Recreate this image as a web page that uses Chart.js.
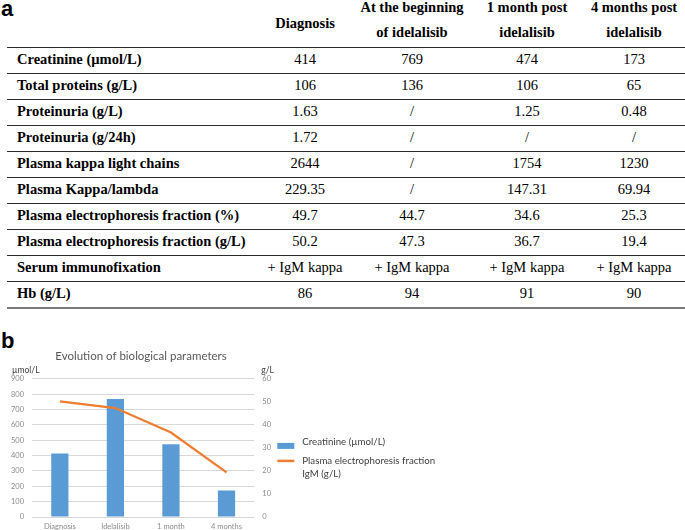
<!DOCTYPE html>
<html>
<head>
<meta charset="utf-8">
<script src="https://cdn.jsdelivr.net/npm/chart.js@4/dist/chart.umd.min.js"></script>
<style>
  html, body { margin: 0; padding: 0; background: #fff; }
  body { width: 685px; height: 530px; position: relative; overflow: hidden; color: #000; }
  .panel { position: absolute; font-family: "Liberation Sans", Arial, sans-serif; font-weight: bold; font-size: 22px; line-height: 22px; left: 1px; }
  .hdr, .cell { font-family: "Liberation Serif", "Times New Roman", serif; }
  .hdr { position: absolute; font-weight: bold; font-size: 14.5px; line-height: 25px; text-align: center; white-space: nowrap; }
  .cell { position: absolute; font-size: 14.5px; line-height: 26px; height: 26px; white-space: nowrap; }
  .lbl { font-weight: bold; text-align: left; }
  .val { text-align: center; }
  .rule { position: absolute; left: 7px; width: 678px; height: 1.3px; background: #2a2a2a; }
  .rule.last { height: 2px; background: #7a7a7a; }
  #chartWrap { position: absolute; left: 0; top: 330px; width: 685px; height: 206px; }
</style>
</head>
<body>
<div class="panel" style="top:-2px;">a</div>
<div class="panel" style="top:330px;">b</div>
<div id="table"></div>
<div id="chartWrap"><canvas id="c" width="685" height="206"></canvas></div>
<script>
// ---------- Table data ----------
const tableHeaders = [
  ["Diagnosis"],
  ["At the beginning", "of idelalisib"],
  ["1 month post", "idelalisib"],
  ["4 months post", "idelalisib"]
];
const tableRowLabels = [
  "Creatinine (µmol/L)",
  "Total proteins (g/L)",
  "Proteinuria (g/L)",
  "Proteinuria (g/24h)",
  "Plasma kappa light chains",
  "Plasma Kappa/lambda",
  "Plasma electrophoresis fraction (%)",
  "Plasma electrophoresis fraction (g/L)",
  "Serum immunofixation",
  "Hb (g/L)"
];
const colDiagnosis = ["414", "106", "1.63", "1.72", "2644", "229.35", "49.7", "50.2", "+ IgM kappa", "86"];
const colBeginning = ["769", "136", "/", "/", "/", "/", "44.7", "47.3", "+ IgM kappa", "94"];
const colOneMonth  = ["474", "106", "1.25", "/", "1754", "147.31", "34.6", "36.7", "+ IgM kappa", "91"];
const colFourMonth = ["173", "65", "0.48", "/", "1230", "69.94", "25.3", "19.4", "+ IgM kappa", "90"];

// ---------- Chart data ----------
const categories = ["Diagnosis", "Idelalisib", "1 month", "4 months"];
const creatinine = [414, 769, 474, 173];
const electrophoresisIgM = [50.2, 47.3, 36.7, 19.4];
const leftAxisRange = [0, 900, 100];
const rightAxisRange = [0, 60, 10];
const chartTitle = "Evolution of biological parameters";
const leftUnit = "µmol/L";
const rightUnit = "g/L";
const seriesNames = ["Creatinine (µmol/L)", "Plasma electrophoresis fraction IgM (g/L)"];
const legendLines = [["Creatinine (µmol/L)"], ["Plasma electrophoresis fraction", "IgM (g/L)"]];

// ---------- Build table ----------
(function buildTable() {
  const t = document.getElementById('table');
  const colCenters = [305, 412, 527, 634];
  const colWidth = 140;
  const rowTop0 = 47, rowH = 26;
  tableHeaders.forEach((lines, i) => {
    const d = document.createElement('div');
    d.className = 'hdr';
    d.style.left = (colCenters[i] - colWidth / 2) + 'px';
    d.style.width = colWidth + 'px';
    d.style.top = (lines.length === 1 ? 10.5 : -5.5) + 'px';
    d.innerHTML = lines.join('<br>');
    t.appendChild(d);
  });
  const cols = [colDiagnosis, colBeginning, colOneMonth, colFourMonth];
  for (let r = 0; r <= tableRowLabels.length; r++) {
    const line = document.createElement('div');
    line.className = 'rule' + (r === tableRowLabels.length ? ' last' : '');
    line.style.top = (rowTop0 + r * rowH - 0.5) + 'px';
    t.appendChild(line);
  }
  tableRowLabels.forEach((lab, r) => {
    const top = rowTop0 + r * rowH - 1.5;
    const l = document.createElement('div');
    l.className = 'cell lbl';
    l.style.left = '17px';
    l.style.top = top + 'px';
    l.textContent = lab;
    t.appendChild(l);
    cols.forEach((col, ci) => {
      const v = document.createElement('div');
      v.className = 'cell val';
      v.style.left = (colCenters[ci] - colWidth / 2) + 'px';
      v.style.width = colWidth + 'px';
      v.style.top = top + 'px';
      v.textContent = col[r];
      t.appendChild(v);
    });
  });
})();

// ---------- Chart ----------
const BLUE = '#5b9bd5';
const ORANGE = '#ed7d31';
const FONT = 'Lato, "Open Sans", sans-serif';

const extrasPlugin = {
  id: 'extras',
  afterDraw(chart) {
    const ctx = chart.ctx;
    const ca = chart.chartArea;
    const yR = chart.scales.y1;
    ctx.save();
    ctx.fillStyle = '#404040';
    ctx.font = '8.5px ' + FONT;
    ctx.textBaseline = 'middle';
    ctx.textAlign = 'left';
    ctx.fillText(leftUnit, 12, ca.top - 9);
    ctx.fillText(rightUnit, yR.left + 7, ca.top - 9);
    const lx = ca.right + 23;
    const cy = (ca.top + ca.bottom) / 2;
    ctx.font = '9.7px ' + FONT;
    const dsBar = chart.data.datasets[1];
    ctx.fillStyle = dsBar.backgroundColor;
    ctx.fillRect(lx, cy - 5, 17, 6);
    ctx.fillStyle = '#404040';
    legendLines[0].forEach((s, i) => ctx.fillText(s, lx + 25, cy - 6 + i * 13));
    const dsLine = chart.data.datasets[0];
    ctx.strokeStyle = dsLine.borderColor;
    ctx.lineWidth = 2.5;
    ctx.beginPath();
    ctx.moveTo(lx, cy + 13);
    ctx.lineTo(lx + 17, cy + 13);
    ctx.stroke();
    legendLines[1].forEach((s, i) => ctx.fillText(s, lx + 25, cy + 13 + i * 13));
    ctx.restore();
  }
};

new Chart(document.getElementById('c'), {
  data: {
    labels: categories,
    datasets: [
      {
        type: 'line',
        label: seriesNames[1],
        data: electrophoresisIgM,
        yAxisID: 'y1',
        borderColor: ORANGE,
        backgroundColor: ORANGE,
        borderWidth: 2.25,
        pointRadius: 0,
        tension: 0,
        order: 0
      },
      {
        type: 'bar',
        label: seriesNames[0],
        data: creatinine,
        yAxisID: 'y',
        backgroundColor: BLUE,
        borderWidth: 0,
        categoryPercentage: 1,
        barPercentage: 0.31,
        order: 1
      }
    ]
  },
  plugins: [extrasPlugin],
  options: {
    responsive: false,
    animation: false,
    devicePixelRatio: 1,
    layout: { padding: { left: 3, right: 406, top: 0, bottom: 0 } },
    plugins: {
      legend: { display: false },
      tooltip: { enabled: false },
      title: {
        display: true,
        text: chartTitle,
        color: '#595959',
        font: { family: FONT, size: 11.5, weight: 'normal' },
        padding: { top: 19, bottom: 16 }
      }
    },
    scales: {
      x: {
        grid: { display: false, drawTicks: false, tickLength: 0 },
        border: { display: false },
        ticks: { color: '#8c8c8c', font: { family: FONT, size: 7.5 }, padding: 5, maxRotation: 0 }
      },
      y: {
        position: 'left',
        min: leftAxisRange[0], max: leftAxisRange[1],
        ticks: { stepSize: leftAxisRange[2], color: '#8c8c8c', font: { family: FONT, size: 7.5 }, padding: 8 },
        grid: { color: '#d9d9d9', lineWidth: 1, drawTicks: false },
        border: { display: false }
      },
      y1: {
        position: 'right',
        min: rightAxisRange[0], max: rightAxisRange[1],
        ticks: { stepSize: rightAxisRange[2], color: '#8c8c8c', font: { family: FONT, size: 7.5 }, padding: 8 },
        grid: { drawOnChartArea: false, drawTicks: false },
        border: { display: false }
      }
    }
  }
});
</script>
</body>
</html>
